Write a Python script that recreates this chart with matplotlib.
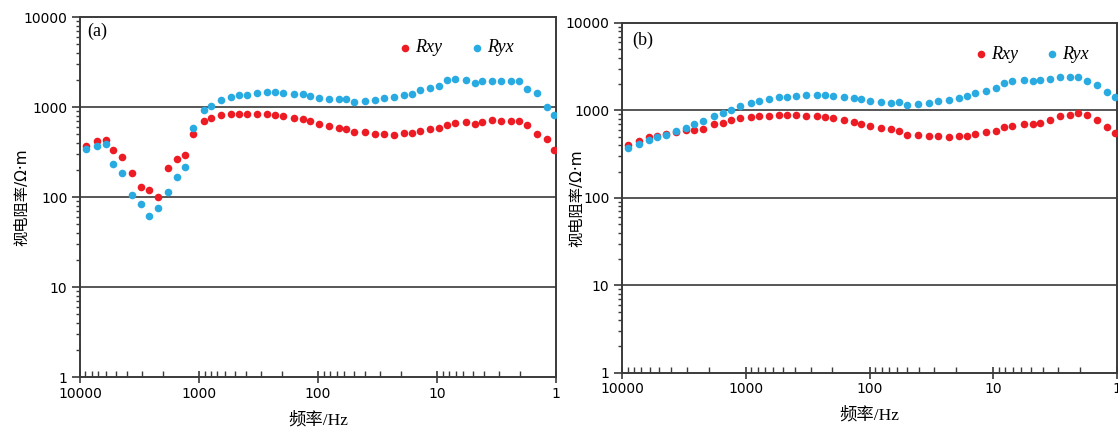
"""Apparent resistivity curves (Rxy / Ryx) for two MT sites, panels (a) and (b)."""

import matplotlib
matplotlib.use("Agg")
import matplotlib.pyplot as plt
from matplotlib.ticker import LogLocator, NullFormatter, FixedLocator

# frequencies (Hz), shared by both sites
freq = [8955, 7240, 6050, 5250, 4440, 3655, 3055, 2617, 2223, 1823,
        1522, 1311, 1117, 908, 788, 653, 535, 461, 395, 324,
        268, 231, 198, 160, 134, 117, 98.6, 80.4, 67.0, 57.8,
        49.5, 40.5, 33.4, 27.9, 22.9, 19.0, 16.4, 14.0, 11.4, 9.57,
        8.24, 7.02, 5.70, 4.76, 4.19, 3.47, 2.88, 2.40, 2.06, 1.75,
        1.45, 1.20, 1.04]

# site (a)
a_rxy = [369, 416, 433, 330, 276, 185, 129, 120, 99, 212,
         262, 293, 501, 699, 749, 809, 843, 843, 843, 843,
         843, 821, 788, 760, 730, 693, 647, 620, 584, 574,
         523, 523, 505, 498, 489, 510, 510, 537, 565, 580,
         636, 664, 681, 647, 681, 711, 704, 704, 704, 636,
         505, 438, 333]
a_ryx = [341, 369, 385, 234, 185, 106, 84, 61.5, 75.5, 115,
         166, 214, 589, 919, 1026, 1187, 1292, 1349, 1370, 1420,
         1468, 1455, 1420, 1394, 1380, 1326, 1249, 1240, 1218, 1218,
         1136, 1175, 1205, 1249, 1282, 1370, 1394, 1545, 1626, 1725,
         1980, 2061, 1995, 1848, 1960, 1960, 1960, 1960, 1960, 1597,
         1420, 1000, 821]

# site (b)
b_rxy = [400, 452, 493, 516, 544, 559, 594, 600, 615, 696,
         720, 773, 809, 843, 859, 866, 882, 882, 875, 866,
         866, 837, 809, 787, 733, 701, 665, 631, 605, 583,
         525, 525, 507, 503, 493, 511, 516, 544, 559, 578,
         638, 665, 701, 696, 720, 773, 859, 889, 929, 882,
         787, 643, 553]
b_ryx = [372, 418, 460, 493, 530, 589, 631, 690, 753, 866,
         929, 998, 1128, 1211, 1277, 1335, 1407, 1429, 1457, 1484,
         1508, 1496, 1457, 1429, 1382, 1346, 1277, 1253, 1221, 1232,
         1158, 1180, 1221, 1277, 1311, 1396, 1444, 1577, 1663, 1813,
         2069, 2182, 2222, 2147, 2222, 2280, 2387, 2387, 2404, 2163,
         1963, 1620, 1419]

x_ticks = [10000, 1000, 100, 10, 1]
x_ticklabels = ["10000", "1000", "100", "10", "1"]
y_ticks = [1, 10, 100, 1000, 10000]
y_ticklabels = ["1", "10", "100", "1000", "10000"]
grid_levels = [10, 100, 1000]

RED = "#ed1c24"
BLUE = "#29abe2"
SPINE = "#3a3a3a"
YLABEL_FONT = ["DejaVu Sans", "Noto Sans CJK SC"]
XLABEL_FONT = ["Liberation Serif", "Noto Sans CJK SC"]


def draw_panel(ax, rxy, ryx, tag, legend_anchor, tag_pos, ylabel_x):
    ax.scatter(freq, rxy, s=30, color=RED, linewidths=0, label="Rxy", zorder=3)
    ax.scatter(freq, ryx, s=30, color=BLUE, linewidths=0, label="Ryx", zorder=3)

    ax.set_xscale("log")
    ax.set_yscale("log")
    ax.set_xlim(10000, 1)
    ax.set_ylim(1, 10000)

    for level in grid_levels:
        ax.axhline(level, color=SPINE, linewidth=1.2, zorder=1)

    ax.xaxis.set_major_locator(FixedLocator(x_ticks))
    ax.set_xticklabels(x_ticklabels)
    ax.xaxis.set_minor_locator(LogLocator(base=10, subs=range(2, 10)))
    ax.xaxis.set_minor_formatter(NullFormatter())
    ax.yaxis.set_major_locator(FixedLocator(y_ticks))
    ax.set_yticklabels(y_ticklabels)
    ax.yaxis.set_minor_locator(LogLocator(base=10, subs=range(2, 10)))
    ax.yaxis.set_minor_formatter(NullFormatter())

    ax.tick_params(axis="x", which="major", direction="inout", length=8,
                   width=1.2, color=SPINE, labelsize=10, pad=3)
    ax.tick_params(axis="x", which="minor", direction="in", length=4,
                   width=1.0, color=SPINE)
    ax.tick_params(axis="y", which="major", direction="out", length=6,
                   width=1.2, color=SPINE, labelsize=10, pad=3)
    ax.tick_params(axis="y", which="minor", direction="out", length=3,
                   width=1.0, color=SPINE)
    for spine in ax.spines.values():
        spine.set_color(SPINE)
        spine.set_linewidth(1.4)

    ax.set_xlabel("频率/Hz", family=XLABEL_FONT, fontsize=12.5, labelpad=8)
    ax.set_ylabel("视电阻率/Ω·m", family=YLABEL_FONT, fontsize=11)
    ax.yaxis.set_label_coords(ylabel_x, 0.5)

    ax.text(tag_pos[0], tag_pos[1], tag, transform=ax.transAxes,
            family="Liberation Serif", fontsize=13, va="top", ha="left")

    ax.legend(loc="center right", bbox_to_anchor=legend_anchor, ncol=2,
              frameon=False, handlelength=0.6, handletextpad=0.25,
              columnspacing=1.6, borderaxespad=0, borderpad=0,
              prop={"family": "Liberation Serif", "style": "italic", "size": 13})


fig = plt.figure(figsize=(11.18, 4.32), dpi=100)
ax_a = fig.add_axes([0.0716, 0.1273, 0.4258, 0.8333])
ax_b = fig.add_axes([0.5564, 0.1373, 0.4428, 0.8095])

draw_panel(ax_a, a_rxy, a_ryx, "(a)", (0.91, 0.914), (0.015, 0.985), -0.107)
draw_panel(ax_b, b_rxy, b_ryx, "(b)", (0.943, 0.911), (0.02, 0.975), -0.077)

fig.savefig("out.png", dpi=100)
print("Saved figure to out.png")
